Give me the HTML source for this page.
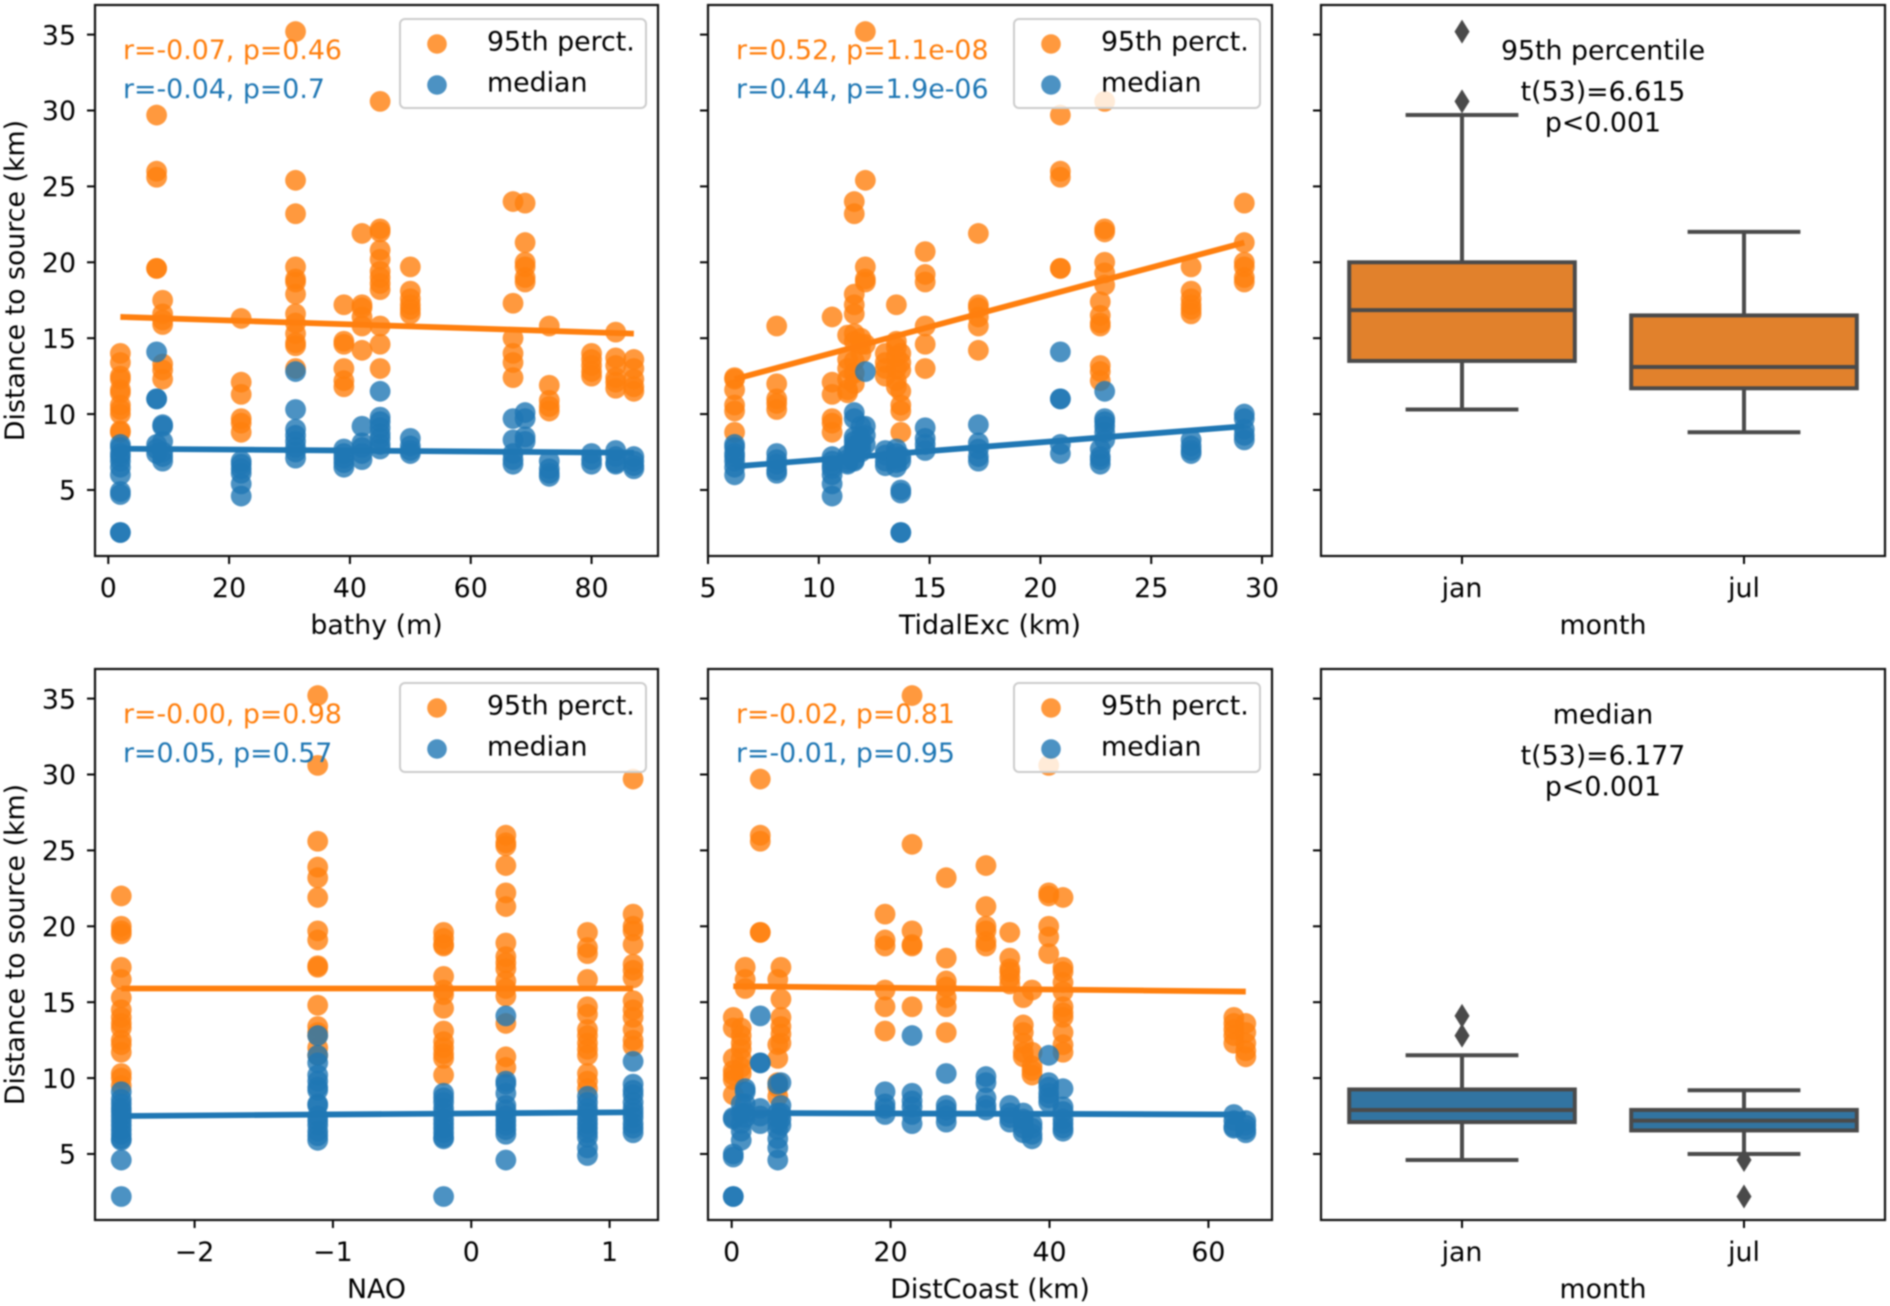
<!DOCTYPE html>
<html>
<head>
<meta charset="utf-8">
<title>Distance to source panels</title>
<style>
html,body{margin:0;padding:0;background:#fff;width:1890px;height:1306px;overflow:hidden}
svg{display:block;filter:blur(0.8px)}
text{font-family:"DejaVu Sans","Liberation Sans",sans-serif;font-size:26.8px;fill:#000}
</style>
</head>
<body>
<svg id="chart" xmlns="http://www.w3.org/2000/svg" width="1890" height="1306" viewBox="0 0 1890 1306"></svg>
<script>
// ---------- shared tick labels ----------
const yTicks = [5, 10, 15, 20, 25, 30, 35];
const yLimits = [0.65, 36.95];
const seriesLabels = ["95th perct.", "median"];
const boxCategories = ["jan", "jul"];

// ---------- bathy ----------
const bathyTicks = [0, 20, 40, 60, 80];
const bathyLimits = [-2.2, 91];
const bathyStations = [2, 8, 9, 22, 31, 39, 42, 45, 50, 67, 69, 73, 80, 84, 87];
const bathyOrange = [
  [14, 13.4, 12.5, 12.3, 11.6, 11.4, 10.6, 10.3, 10, 8.9, 8.8],
  [29.7, 26, 25.6, 19.6, 19.6],
  [17.5, 16.6, 16.2, 15.9, 13.3, 12.9, 12.3],
  [16.3, 12.1, 11.3, 9.7, 9.4, 8.8],
  [35.2, 25.4, 23.2, 19.7, 18.9, 18.7, 17.9, 16.6, 16, 15.3, 14.7, 14.5, 13],
  [17.2, 14.8, 14.6, 13, 12.2, 11.8],
  [21.9, 17.2, 17, 16.4, 15.8, 14.2],
  [30.6, 22.2, 22, 20.8, 20.2, 19.4, 19, 18.6, 18.2, 15.8, 14.6, 13],
  [19.7, 18.1, 17.6, 17.2, 16.9, 16.6],
  [24, 17.3, 15, 14, 13.4, 12.4],
  [23.9, 21.3, 20, 19.7, 19, 18.7],
  [15.8, 11.9, 10.9, 10.5, 10.2],
  [14, 13.6, 13.2, 12.8, 12.5],
  [15.4, 13.7, 13.2, 12.4, 12.1, 11.7],
  [13.6, 13, 12.3, 11.8, 11.5]
];
const bathyBlue = [
  [2.2, 2.2, 4.7, 4.9, 6, 6.5, 6.9, 7.2, 7.4, 7.8, 8],
  [14.1, 11, 11, 8, 7.7, 7.4],
  [9.3, 9.2, 8.2, 7.5, 7.2, 6.9],
  [4.6, 5.4, 6.1, 6.4, 6.7, 6.9],
  [12.8, 10.3, 9, 8.6, 8.2, 7.8, 7.5, 7.1],
  [7.7, 7.4, 7.1, 6.8, 6.5],
  [9.2, 8.1, 7.8, 7.4, 7],
  [11.5, 9.8, 9.5, 9.1, 8.7, 8.4, 8, 7.7],
  [8.4, 7.9, 7.6, 7.4],
  [9.7, 8.3, 7.4, 7, 6.7],
  [10.1, 9.7, 8.5, 8.2],
  [6.9, 6.4, 6.1, 5.9],
  [7.4, 7, 6.7],
  [7.6, 7.2, 6.8, 6.7],
  [7.2, 6.9, 6.6, 6.4]
];
const bathyFitOrange = [16.4, 15.3];
const bathyFitBlue = [7.72, 7.45];

// ---------- tidal excursion ----------
const tidalTicks = [5, 10, 15, 20, 25, 30];
const tidalLimits = [5, 30.45];
const tidalStations = [6.2, 8.1, 10.6, 11.3, 11.6, 11.9, 12.1, 13, 13.5, 13.7, 14.8, 17.2, 20.9, 22.7, 22.9, 26.8, 29.2];
const tidalOrange = [
  [12.4, 12.3, 11.6, 10.6, 10.2, 8.8],
  [15.8, 12, 11, 10.7, 10.3],
  [16.4, 12.1, 11.3, 9.7, 9.4, 8.8],
  [15.2, 13.6, 13, 12.3, 11.6, 11.4],
  [24, 23.2, 17.9, 17.2, 16.6, 15.3, 14.8, 13.5, 12.7, 12],
  [15, 14.6, 14],
  [35.2, 25.4, 19.7, 18.9, 18.7, 14.6],
  [14, 13.4, 13, 12.5],
  [17.2, 14.8, 14.4, 13.8, 13, 12.2, 11.8],
  [14, 13.4, 12.9, 11.5, 10.6, 10.2, 8.8],
  [20.7, 19.2, 18.7, 15.8, 14.6, 13],
  [21.9, 17.2, 17, 16.4, 15.8, 14.2],
  [29.7, 26, 25.6, 19.6, 19.6],
  [17.4, 16.5, 16, 15.8, 13.2, 12.8, 12.2],
  [30.6, 22.2, 22, 20, 19.3, 18.5],
  [19.7, 18.1, 17.6, 17.2, 16.9, 16.6],
  [23.9, 21.3, 20, 19.7, 19, 18.7]
];
const tidalBlue = [
  [8, 7.8, 7.4, 7.2, 6.9, 6.5, 6],
  [7.4, 7, 6.7, 6.3, 6.1],
  [7.2, 6.9, 6.6, 6.4, 6, 5.4, 4.6],
  [7.3, 7, 6.8, 6.7],
  [10.1, 9.7, 8.5, 8.2, 7.9, 7.7, 7.4, 7, 6.9],
  [9.2, 8.5, 8.1, 7.8, 7.5],
  [12.8, 9.2, 8.6, 8],
  [7.6, 7.3, 6.9, 6.6],
  [7.7, 7.4, 7.1, 6.8, 6.5],
  [7.2, 6.9, 5, 4.8, 2.2, 2.2],
  [9.1, 8.4, 8, 7.6],
  [9.3, 8.1, 7.7, 7.2, 6.9],
  [14.1, 11, 11, 8, 7.4],
  [7.7, 7.2, 7, 6.7],
  [11.5, 9.7, 9.5, 9.2, 8.8, 8.3],
  [8.3, 7.9, 7.6, 7.4],
  [10, 9.7, 9, 8.6, 8.3]
];
const tidalFitOrange = [12.3, 21.3];
const tidalFitBlue = [6.55, 9.2];

// ---------- NAO ----------
const naoTicks = [-2, -1, 0, 1];
const naoLimits = [-2.72, 1.35];
const naoStations = [-2.53, -1.11, -0.2, 0.25, 0.84, 1.17];
const naoOrange = [
  [22, 20, 19.7, 19.5, 17.3, 16.5, 15.3, 14.5, 14, 13.6, 13.3, 12.5, 12.2, 11.7, 10.3, 10, 9.5],
  [35.2, 30.6, 25.6, 23.9, 23.2, 21.9, 19.7, 19.1, 17.4, 17.3, 14.8, 13.4, 13, 12.8, 12, 11.5],
  [19.6, 19.2, 18.8, 18.7, 16.7, 15.8, 15.5, 14.6, 13.1, 12.4, 12, 11.6, 11.3, 10.2],
  [26, 25.5, 25.3, 24, 22.2, 21.3, 18.9, 18, 17.6, 17.2, 16.4, 15.9, 15.4, 13.6, 11.4, 10.7],
  [19.6, 18.6, 18.2, 16.5, 14.7, 14.2, 13.2, 12.8, 12.3, 11.9, 11.5, 10.3, 9.8, 9.3],
  [29.7, 20.8, 20, 19.7, 18.8, 17.5, 17.1, 16.6, 15.1, 14.5, 14, 13.2, 12.5, 12.1]
];
const naoBlue = [
  [9.1, 8.6, 8.3, 8, 7.8, 7.5, 7.2, 6.9, 6.6, 6.3, 6, 5.9, 4.6, 2.2],
  [12.8, 11.5, 11, 10.2, 9.8, 9.4, 9.2, 8.3, 8.2, 7.5, 7.2, 6.9, 6.5, 6.2, 5.9],
  [9, 8.7, 8.4, 8, 7.7, 7.3, 7, 6.7, 6.4, 6.1, 6, 2.2],
  [14.1, 9.8, 9.6, 9, 8.2, 7.9, 7.5, 7.2, 6.9, 6.6, 6.3, 4.6],
  [8.8, 8.4, 8, 7.7, 7.3, 7, 6.7, 6.4, 6.1, 5.4, 4.9],
  [11.1, 9.6, 9.2, 8.9, 8.4, 8, 7.7, 7.4, 7, 6.7, 6.4]
];
const naoFitOrange = [15.9, 15.9];
const naoFitBlue = [7.5, 7.75];

// ---------- distance to coast ----------
const distTicks = [0, 20, 40, 60];
const distLimits = [-2.98, 68];
const distStations = [0.2, 1.2, 1.7, 3.6, 5.8, 6.2, 19.3, 22.7, 27, 32, 35, 36.7, 37.8, 39.9, 41.7, 63.2, 64.7];
const distOrange = [
  [14, 13.3, 11.3, 10.5, 10.2, 9.9, 8.9],
  [13.3, 12.8, 12.3, 11.9, 11.3, 10.7, 10.3],
  [17.3, 16.5, 15.9],
  [29.7, 26, 25.6, 19.6, 19.6],
  [16.5, 12.2, 11.3, 9.7, 9.4, 8.8],
  [17.3, 15.2, 14, 13.4, 12.9, 12.3],
  [20.8, 19.1, 18.7, 15.8, 14.7, 13.1],
  [35.2, 25.4, 19.7, 18.8, 18.7, 14.7],
  [23.2, 17.9, 16.4, 16, 15.3, 14.7, 13],
  [24, 21.3, 20, 19.7, 19, 18.7],
  [19.6, 17.9, 17.2, 17, 16.6, 16.2],
  [15.3, 13.5, 13, 12.3, 11.7, 11.4],
  [15.8, 11.7, 10.8, 10.5, 10.2],
  [30.6, 22.2, 22, 20, 19.3, 18.2],
  [21.9, 17.3, 17, 16.3, 15.7, 14.7, 14.3, 14, 13, 12.2, 11.7],
  [14, 13.6, 13.2, 12.8, 12.3],
  [13.6, 13, 12.3, 11.8, 11.4]
];
const distBlue = [
  [7.4, 7.3, 5, 4.8, 2.2, 2.2],
  [8.3, 7.7, 7, 6.5, 5.9],
  [9.3, 9.1, 8.3, 7.7, 7.4],
  [14.1, 11, 11, 8, 7.5, 7],
  [9.6, 7.7, 7.4, 7, 6.6, 6, 5.4, 4.6],
  [9.7, 8.2, 7.7, 7.3, 6.9],
  [9.1, 8.3, 8, 7.6],
  [12.8, 9, 8.5, 8.1, 7.6, 7],
  [10.3, 8.2, 7.9, 7.5, 7.1],
  [10.1, 9.7, 8.7, 8.2, 7.9],
  [8.2, 7.7, 7.4, 7.1],
  [7.7, 7.3, 7, 6.7, 6.4],
  [7, 6.7, 6.3, 6],
  [11.5, 9.7, 9.4, 9, 8.7, 8.4],
  [9.3, 8.1, 7.8, 7.3, 7, 6.7, 6.5],
  [7.6, 7.2, 6.8, 6.7],
  [7.2, 6.9, 6.6, 6.4]
];
const distFitOrange = [16.05, 15.7];
const distFitBlue = [7.7, 7.6];

// ---------- box plots: [low whisker, q1, median, q3, high whisker] ----------
const box95Jan = [10.3, 13.5, 16.85, 20, 29.7];
const box95Jul = [8.8, 11.7, 13.1, 16.5, 22];
const box95Outliers = [[30.6, 35.2], []];
const boxMedJan = [4.6, 7.1, 7.9, 9.25, 11.5];
const boxMedJul = [5, 6.55, 7.2, 7.9, 9.2];
const boxMedOutliers = [[12.8, 14.1], [4.6, 2.2]];

const ORANGE = "#ff7f0e";
const BLUE = "#1f77b4";
const NS = "http://www.w3.org/2000/svg";
const root = document.getElementById("chart");

function add(parent, tag, attrs, name, text) {
  const el = document.createElementNS(NS, tag);
  for (const k in attrs) el.setAttribute(k, attrs[k]);
  
  
  if (text !== undefined) el.textContent = text;
  parent.appendChild(el);
  return el;
}

function linear(domain, range) {
  return v => range[0] + (v - domain[0]) / (domain[1] - domain[0]) * (range[1] - range[0]);
}

function frame(g, box, xs, xTickVals, xTickText, xLabel, showYLabels, labelBaselines) {
  const ys = linear(yLimits, [box.b, box.t]);
  add(g, "rect", {x: box.l, y: box.t, width: box.r - box.l, height: box.b - box.t, fill: "#fff"}, "plot-background");
  const marks = add(g, "g", {}, "plot-marks");
  yTicks.forEach(t => {
    add(g, "line", {x1: box.l - 8, x2: box.l, y1: ys(t), y2: ys(t), stroke: "#000", "stroke-width": 2}, "y-tick");
    if (showYLabels) add(g, "text", {x: box.l - 19, y: ys(t) + 9.7, "text-anchor": "end"}, "y-tick-label", String(t));
  });
  xTickVals.forEach((t, i) => {
    add(g, "line", {x1: xs(t), x2: xs(t), y1: box.b, y2: box.b + 8, stroke: "#000", "stroke-width": 2}, "x-tick");
    add(g, "text", {x: xs(t), y: labelBaselines[0], "text-anchor": "middle"}, "x-tick-label", xTickText[i]);
  });
  add(g, "text", {x: (box.l + box.r) / 2, y: labelBaselines[1], "text-anchor": "middle"}, "x-axis-title", xLabel);
  if (showYLabels) {
    const cy = (box.t + box.b) / 2;
    add(g, "text", {x: 24, y: cy, "text-anchor": "middle", transform: "rotate(-90 24 " + cy + ")"}, "y-axis-title", "Distance to source (km)");
  }
  return {marks, ys};
}

function spines(g, box) {
  add(g, "rect", {x: box.l, y: box.t, width: box.r - box.l, height: box.b - box.t, fill: "none", stroke: "#111", "stroke-width": 2.2}, "plot-border");
}

function scatterPanel(name, box, stations, limits, ticks, orange, blue, fitO, fitB, xLabel, showY, notes, baselines) {
  const g = add(root, "g", {}, name);
  const xs = linear(limits, [box.l, box.r]);
  const tickText = ticks.map(t => String(t).replace("-", "\u2212"));
  const f = frame(g, box, xs, ticks, tickText, xLabel, showY, baselines);
  const drawSeries = (values, fit, color, seriesName) => {
    values.forEach((list, i) => {
      list.forEach(v => {
        add(f.marks, "circle", {cx: xs(stations[i]), cy: f.ys(v), r: 10.4, fill: color, "fill-opacity": 0.8}, seriesName + "-point");
      });
    });
    add(f.marks, "line", {
      x1: xs(stations[0]), y1: f.ys(fit[0]),
      x2: xs(stations[stations.length - 1]), y2: f.ys(fit[1]),
      stroke: color, "stroke-width": 5.8
    }, seriesName + "-regression-line");
  };
  drawSeries(orange, fitO, ORANGE, "percentile-95");
  drawSeries(blue, fitB, BLUE, "median");
  add(g, "text", {x: box.l + 28, y: box.t + 54, fill: ORANGE, style: "fill:" + ORANGE}, "correlation-95th", notes[0]);
  add(g, "text", {x: box.l + 28, y: box.t + 93, fill: BLUE, style: "fill:" + BLUE}, "correlation-median", notes[1]);
  const lg = add(g, "g", {}, "legend");
  add(lg, "rect", {x: box.r - 258, y: box.t + 14, width: 246, height: 89, rx: 5, fill: "#fff", "fill-opacity": 0.8, stroke: "#ccc", "stroke-width": 2}, "legend-frame");
  [ORANGE, BLUE].forEach((c, i) => {
    add(lg, "circle", {cx: box.r - 221, cy: box.t + 39 + i * 41, r: 9.8, fill: c, "fill-opacity": 0.8}, "legend-marker");
    add(lg, "text", {x: box.r - 171, y: box.t + 45.5 + i * 41}, "legend-entry", seriesLabels[i]);
  });
  spines(g, box);
}

function boxPanel(name, box, stats, outliers, color, notes, baselines) {
  const g = add(root, "g", {}, name);
  const xs = linear([-0.5, 1.5], [box.l, box.r]);
  const f = frame(g, box, xs, [0, 1], boxCategories, "month", false, baselines);
  const ink = "#4a4a4a";
  stats.forEach((s, i) => {
    const cx = xs(i), halfBox = xs(0.4) - xs(0), halfCap = xs(0.2) - xs(0);
    const lineStyle = {stroke: ink, "stroke-width": 4};
    add(f.marks, "line", Object.assign({x1: cx, x2: cx, y1: f.ys(s[0]), y2: f.ys(s[1])}, lineStyle), "box-whisker-low");
    add(f.marks, "line", Object.assign({x1: cx, x2: cx, y1: f.ys(s[3]), y2: f.ys(s[4])}, lineStyle), "box-whisker-high");
    add(f.marks, "line", Object.assign({x1: cx - halfCap, x2: cx + halfCap, y1: f.ys(s[0]), y2: f.ys(s[0])}, lineStyle), "box-cap-low");
    add(f.marks, "line", Object.assign({x1: cx - halfCap, x2: cx + halfCap, y1: f.ys(s[4]), y2: f.ys(s[4])}, lineStyle), "box-cap-high");
    add(f.marks, "rect", {x: cx - halfBox, y: f.ys(s[3]), width: 2 * halfBox, height: f.ys(s[1]) - f.ys(s[3]), fill: color, stroke: ink, "stroke-width": 4}, "box-" + boxCategories[i]);
    add(f.marks, "line", Object.assign({x1: cx - halfBox, x2: cx + halfBox, y1: f.ys(s[2]), y2: f.ys(s[2])}, lineStyle), "box-median-line");
    outliers[i].forEach(v => {
      const y = f.ys(v);
      add(f.marks, "path", {d: "M" + cx + " " + (y - 12) + "L" + (cx + 7.5) + " " + y + "L" + cx + " " + (y + 12) + "L" + (cx - 7.5) + " " + y + "Z", fill: ink}, "box-outlier");
    });
  });
  const mid = (box.l + box.r) / 2;
  notes.forEach((n, i) => {
    add(g, "text", {x: mid, y: box.t + [54.5, 95.5, 126.5][i], "text-anchor": "middle"}, "box-annotation", n);
  });
  spines(g, box);
}

const row1 = {t: 5, b: 556};
const row2 = {t: 669, b: 1220};
const colA = {l: 95, r: 658};
const colB = {l: 708, r: 1272};
const colC = {l: 1321, r: 1885};
const base1 = [597, 634];
const base2 = [1261, 1298];

scatterPanel("bathy-panel", Object.assign({}, colA, row1), bathyStations, bathyLimits, bathyTicks, bathyOrange, bathyBlue, bathyFitOrange, bathyFitBlue, "bathy (m)", true, ["r=-0.07, p=0.46", "r=-0.04, p=0.7"], base1);
scatterPanel("tidal-excursion-panel", Object.assign({}, colB, row1), tidalStations, tidalLimits, tidalTicks, tidalOrange, tidalBlue, tidalFitOrange, tidalFitBlue, "TidalExc (km)", false, ["r=0.52, p=1.1e-08", "r=0.44, p=1.9e-06"], base1);
boxPanel("percentile-95-box-panel", Object.assign({}, colC, row1), [box95Jan, box95Jul], box95Outliers, "#e1812c", ["95th percentile", "t(53)=6.615", "p<0.001"], base1);
scatterPanel("nao-panel", Object.assign({}, colA, row2), naoStations, naoLimits, naoTicks, naoOrange, naoBlue, naoFitOrange, naoFitBlue, "NAO", true, ["r=-0.00, p=0.98", "r=0.05, p=0.57"], base2);
scatterPanel("dist-coast-panel", Object.assign({}, colB, row2), distStations, distLimits, distTicks, distOrange, distBlue, distFitOrange, distFitBlue, "DistCoast (km)", false, ["r=-0.02, p=0.81", "r=-0.01, p=0.95"], base2);
boxPanel("median-box-panel", Object.assign({}, colC, row2), [boxMedJan, boxMedJul], boxMedOutliers, "#3274a1", ["median", "t(53)=6.177", "p<0.001"], base2);
</script>
</body>
</html>
